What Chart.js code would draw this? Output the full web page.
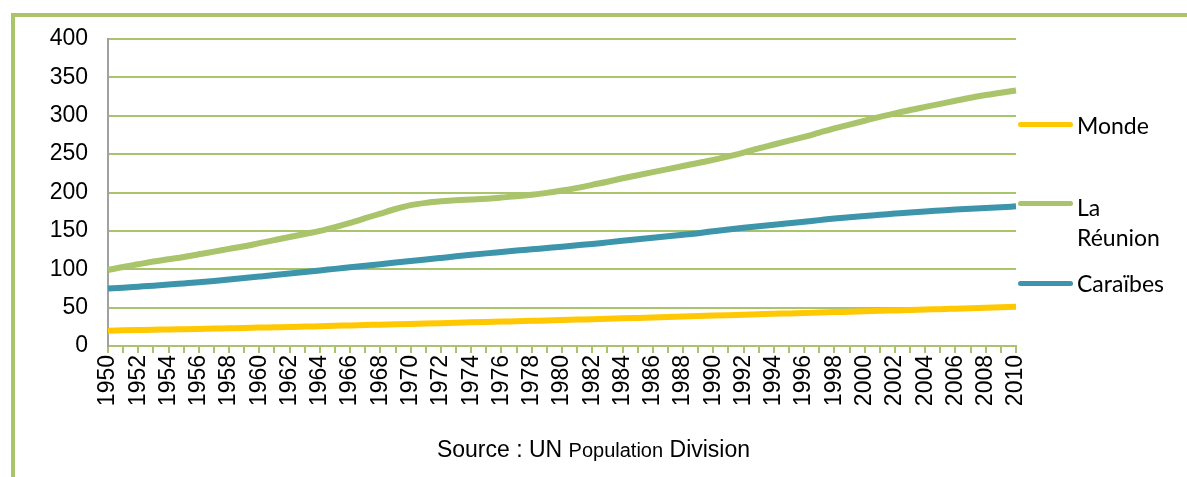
<!DOCTYPE html>
<html>
<head>
<meta charset="utf-8">
<script src="https://cdn.jsdelivr.net/npm/chart.js@4.4.1/dist/chart.umd.min.js"></script>
<style>
  html, body { margin: 0; padding: 0; background: #fff; }
  #wrap { position: relative; width: 1187px; height: 477px; overflow: hidden; }
  #c { position: absolute; left: 0; top: 0; }
  .frameTop { position: absolute; left: 11px; top: 13px; width: 1176px; height: 4px; background: #a9c46b; }
  .frameLeft { position: absolute; left: 11px; top: 13px; width: 4px; height: 464px; background: #a9c46b; }
  .leg { position: absolute; font-family: Lato, "Open Sans", sans-serif; font-size: 23px; color: #000; line-height: 30px; }
  .legLine { position: absolute; left: 1018px; width: 55px; height: 5px; border-radius: 3px; }
  #source { position: absolute; left: 0; width: 1187px; top: 436px; text-align: center;
            font-family: "Liberation Sans", Arial, sans-serif; font-size: 23px; color: #000; }
  #source small { font-size: 20px; }
</style>
</head>
<body>
<div id="wrap">
  <canvas id="c" width="1187" height="477"></canvas>
  <div class="frameTop"></div>
  <div class="frameLeft"></div>

  <div class="legLine" style="top:122px;background:#ffc800"></div>
  <div class="leg" style="left:1077px;top:110px">Monde</div>
  <div class="legLine" style="top:201px;background:#a9c46b"></div>
  <div class="leg" style="left:1077px;top:192px">La<br>Réunion</div>
  <div class="legLine" style="top:281px;background:#3d95ab"></div>
  <div class="leg" style="left:1077px;top:268px">Caraïbes</div>

  <div id="source">Source : UN <small>Population</small> Division</div>
</div>
<script>
const years = [];
for (let y = 1950; y <= 2010; y++) years.push(String(y));

const monde = [20, 20.4, 20.8, 21.2, 21.5, 21.9, 22.3, 22.7, 23.1, 23.5,
  24, 24.4, 24.8, 25.3, 25.8, 26.3, 26.8, 27.3, 27.8, 28.3,
  28.8, 29.3, 29.8, 30.3, 30.8, 31.3, 31.8, 32.3, 32.8, 33.3,
  33.8, 34.4, 34.9, 35.5, 36, 36.6, 37.2, 37.8, 38.4, 39,
  39.6, 40.2, 40.8, 41.4, 42, 42.5, 43.1, 43.6, 44.2, 44.7,
  45.3, 45.8, 46.4, 46.9, 47.5, 48, 48.6, 49.2, 49.8, 50.4, 51];

const reunion = [99, 103, 106.5, 110, 113, 116, 119.5, 123, 126.5, 130,
  134, 138, 142, 146, 150, 155, 160.5, 166.5, 172.5, 178.5,
  183.5, 186.5, 188.5, 190, 191, 192, 193.5, 195, 197, 199.5,
  202.5, 206, 210, 214, 218.5, 222.5, 226.5, 230.5, 234.5, 238.5,
  242.5, 247, 252, 257.5, 262.5, 267.5, 272.5, 278, 283.5, 288.5,
  293.5, 298.5, 303, 307.5, 311.5, 315.5, 319.5, 323.5, 327, 330, 333];

const caraibes = [75, 76, 77.3, 78.6, 80, 81.5, 83, 84.7, 86.5, 88.5,
  90.5, 92.5, 94.5, 96.5, 98.5, 100.5, 102.5, 104.5, 106.5, 108.7,
  110.8, 112.8, 114.8, 116.8, 118.8, 120.7, 122.5, 124.3, 126, 127.7,
  129.4, 131.2, 133, 135, 137, 139, 141, 143, 145, 147,
  149.5, 151.8, 154, 156, 158, 160, 162, 164, 166, 167.8,
  169.5, 171, 172.5, 174, 175.3, 176.5, 177.7, 178.8, 179.8, 180.8, 182];

const yTicks = [0, 50, 100, 150, 200, 250, 300, 350, 400];

const green = '#a9c46b';
const tickFont = { family: '"Liberation Sans", Arial, sans-serif', size: 23 };

function line(label, data, color) {
  return {
    label: label,
    data: data,
    borderColor: color,
    backgroundColor: color,
    borderWidth: 6,
    pointRadius: 0,
    tension: 0.4,
    cubicInterpolationMode: 'monotone',
    fill: false
  };
}

new Chart(document.getElementById('c'), {
  type: 'line',
  data: {
    labels: years,
    datasets: [
      line('Monde', monde, '#ffc800'),
      line('La Réunion', reunion, green),
      line('Caraïbes', caraibes, '#3d95ab')
    ]
  },
  options: {
    responsive: false,
    animation: false,
    layout: { padding: { left: 0, top: 39, right: 171, bottom: 0 } },
    plugins: { legend: { display: false }, tooltip: { enabled: false } },
    scales: {
      x: {
        offset: false,
        grid: { drawOnChartArea: false, drawTicks: true, tickLength: 7, color: green, lineWidth: 2 },
        border: { color: green, width: 2 },
        ticks: {
          autoSkip: false,
          maxRotation: 90,
          minRotation: 90,
          padding: 2,
          color: '#000',
          font: tickFont,
          callback: function (v, i) { return i % 2 === 0 ? years[i] : ''; }
        },
        afterFit: function (s) { s.height = 131; }
      },
      y: {
        min: 0,
        max: 400,
        afterBuildTicks: function (s) { s.ticks = yTicks.map(v => ({ value: v })); },
        grid: { color: green, lineWidth: 2, drawTicks: false },
        border: { color: '#a0a0a0', width: 2 },
        ticks: { padding: 20, color: '#000', font: tickFont },
        afterFit: function (s) { s.width = 108; }
      }
    }
  }
});
</script>
</body>
</html>
